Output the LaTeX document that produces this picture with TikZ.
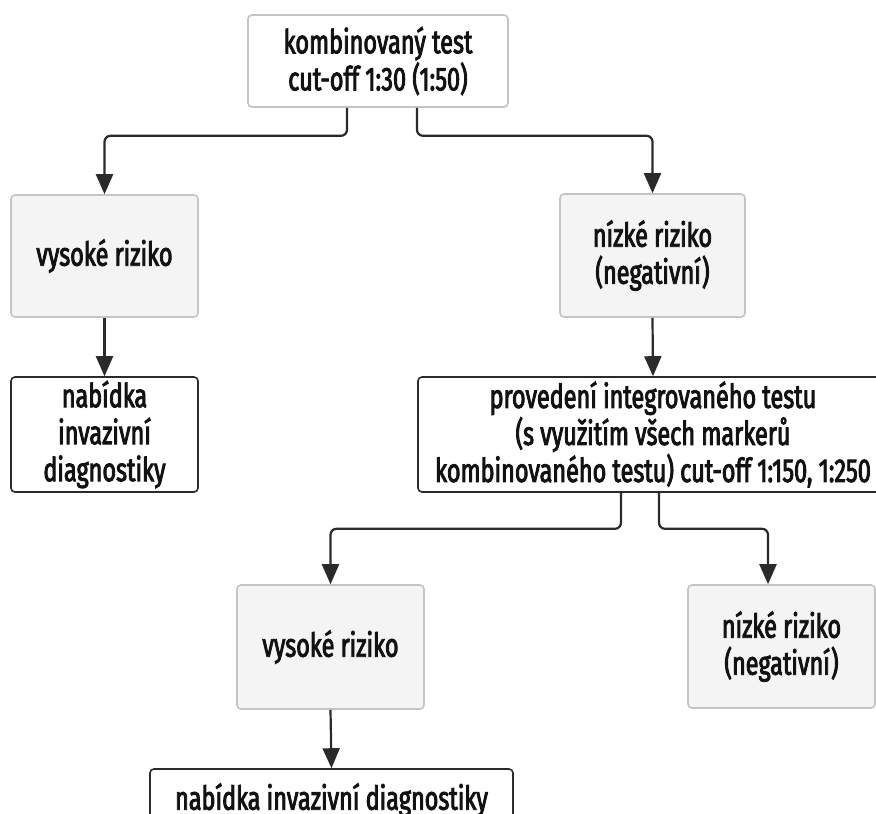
\documentclass[tikz,border=0pt]{standalone}
\usepackage{fontspec}
\setmainfont[FakeStretch=0.71,FakeBold=2.6]{Fira Sans}
\usetikzlibrary{arrows.meta}
\definecolor{graybox}{HTML}{F4F4F4}
\definecolor{grayline}{HTML}{C4C4C4}
\definecolor{darkline}{HTML}{2A2A2A}
\definecolor{txt}{HTML}{121212}
\tikzset{
  box/.style={rectangle, rounded corners=4pt, align=center, inner sep=0pt,
    text=txt, font=\fontsize{33}{37}\selectfont, line width=1.6pt},
  graybox/.style={box, draw=grayline, fill=graybox},
  whitebox/.style={box, draw=darkline, fill=white},
  topbox/.style={box, draw=grayline, fill=white},
  conn/.style={draw=darkline, line width=2.2pt, rounded corners=6pt,
    -{Triangle[length=20pt,width=17pt]}}
}
\begin{document}
\begin{tikzpicture}[x=1pt,y=-1pt]
\useasboundingbox (0,0) rectangle (876,814);
\clip (0,0) rectangle (876,814);
\fill[white] (0,0) rectangle (876,814);
\node[topbox, minimum width=260pt, minimum height=92pt] (top) at (378,61) {kombinovaný test\\cut-off 1:30 (1:50)};
\node[graybox, minimum width=187pt, minimum height=122pt] (hl) at (104.5,256) {vysoké riziko};
\node[whitebox, minimum width=187pt, minimum height=115pt] (nl) at (104.5,434.5) {nabídka\\invazivní\\diagnostiky};
\node[graybox, minimum width=185pt, minimum height=123pt] (nr) at (652.5,255.5) {nízké riziko\\(negativní)};
\node[whitebox, minimum width=470pt, minimum height=115pt] (big) at (653,434.5) {provedení integrovaného testu\\(s využitím všech markerů\\kombinovaného testu) cut-off 1:150, 1:250};
\node[graybox, minimum width=187pt, minimum height=124pt] (h2) at (330.5,647) {vysoké riziko};
\node[graybox, minimum width=187pt, minimum height=123pt] (n2) at (781.5,646.5) {nízké riziko\\(negativní)};
\node[whitebox, minimum width=363pt, minimum height=62pt] (bot) at (331.5,800) {nabídka invazivní diagnostiky};
\coordinate (n2in) at ([xshift=-13.5pt]n2.north);
\draw[conn] ([xshift=-31pt]top.south) -- ++(0,28) -| (hl.north);
\draw[conn] ([xshift=39pt]top.south) -- ++(0,28) -| (nr.north);
\draw[conn] (hl.south) -- (nl.north);
\draw[conn] (nr.south) -- (big.north);
\draw[conn] ([xshift=-32pt]big.south) -- ++(0,36) -| (h2.north);
\draw[conn] ([xshift=6pt]big.south) -- ++(0,36) -| (n2in);
\draw[conn] (h2.south) -- (bot.north);
\end{tikzpicture}
\end{document}
